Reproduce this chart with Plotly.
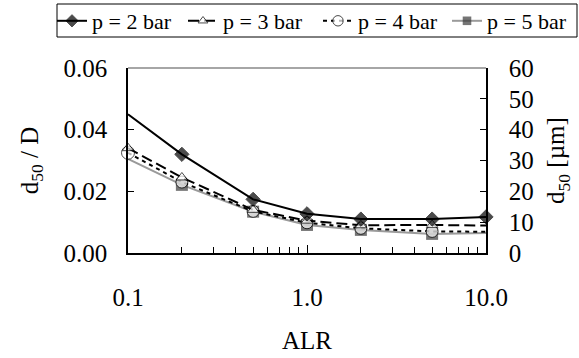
import plotly.graph_objects as go

alr = [0.1, 0.2, 0.5, 1.0, 2.0, 5.0, 10.0]
p2 = [0.045, 0.032, 0.0174, 0.0127, 0.0110, 0.0110, 0.0117]
p3 = [0.034, 0.0245, 0.0140, 0.0105, 0.0090, 0.0091, 0.0089]
p4 = [0.0325, 0.0230, 0.0135, 0.0098, 0.0080, 0.0070, 0.0069]
p5 = [0.0305, 0.0221, 0.0134, 0.0091, 0.0075, 0.0062, 0.0065]
names = ["p = 2 bar", "p = 3 bar", "p = 4 bar", "p = 5 bar"]
y_left_ticks = [0.00, 0.02, 0.04, 0.06]
y_right_ticks = [0, 10, 20, 30, 40, 50, 60]
x_ticks = [0.1, 1.0, 10.0]
x_ticklabels = ["0.1", "1.0", "10.0"]
x_minor = [0.2, 0.3, 0.4, 0.5, 0.6, 0.7, 0.8, 0.9, 2, 3, 4, 5, 6, 7, 8, 9]

FONT = "Liberation Serif"
W, H = 579, 358
L, R, T, B = 128, 93, 68, 105
PW, PH = W - L - R, H - T - B


def px_x(px):
    return (px - L) / PW


def px_y(py):
    return (H - B - py) / PH


fig = go.Figure()
fig.add_trace(go.Scatter(
    x=alr, y=p5, name=names[3], mode="lines+markers", legend="legend2",
    line=dict(color="#9a9a9a", width=2),
    marker=dict(symbol="square", size=[0, 12, 12, 12, 12, 12, 0], color="#3a3a3a",
                line=dict(color="#3a3a3a", width=0)),
    cliponaxis=False))
fig.add_trace(go.Scatter(
    x=alr, y=p4, name=names[2], mode="lines+markers", legend="legend2",
    line=dict(color="black", width=2, dash="4px,4px"),
    marker=dict(symbol="circle", size=[13, 12, 12, 12, 12, 12, 0], color="white",
                line=dict(color="black", width=1)),
    cliponaxis=False))
fig.add_trace(go.Scatter(
    x=alr, y=p3, name=names[1], mode="lines+markers", legend="legend",
    line=dict(color="black", width=2, dash="11px,5px"),
    marker=dict(symbol="triangle-up", size=[10, 10, 10, 10, 10, 10, 0], color="white",
                line=dict(color="black", width=1)),
    cliponaxis=False))
fig.add_trace(go.Scatter(
    x=alr, y=p2, name=names[0], mode="lines+markers", legend="legend",
    line=dict(color="black", width=2),
    marker=dict(symbol="diamond", size=[0, 11, 11, 11, 11, 11, 11], color="black",
                line=dict(color="black", width=1)),
    cliponaxis=False))

# secondary axis trace (invisible) to carry the right axis
fig.add_trace(go.Scatter(x=[alr[0]], y=[None], yaxis="y2", showlegend=False,
                         hoverinfo="skip"))

leg_common = dict(orientation="h", traceorder="reversed", xanchor="left",
                  yanchor="middle", bgcolor="rgba(0,0,0,0)", borderwidth=0,
                  font=dict(family=FONT, size=22, color="black"), itemwidth=30,
                  tracegroupgap=0, entrywidthmode="pixels")

fig.update_layout(
    width=W, height=H,
    margin=dict(l=L, r=R, t=T, b=B, autoexpand=False),
    paper_bgcolor="white", plot_bgcolor="white",
    font=dict(family=FONT, size=25, color="black"),
    showlegend=True,
    legend=dict(x=px_x(52), y=px_y(21), entrywidth=86, **leg_common),
    legend2=dict(x=px_x(318), y=px_y(21), entrywidth=84, **leg_common),
    xaxis=dict(type="log", range=[-1, 1], tickvals=x_ticks, ticktext=x_ticklabels,
               ticks="inside", ticklen=8, tickcolor="black", tickwidth=1,
               showline=True, linecolor="black", linewidth=1.5, mirror=False,
               showgrid=False, zeroline=False, ticklabelstandoff=21,
               tickfont=dict(family=FONT, size=25),
               minor=dict(tickvals=x_minor, ticks="inside", ticklen=6,
                          tickcolor="black", showgrid=False),
               title=dict(text="ALR", standoff=22, font=dict(family=FONT, size=25))),
    yaxis=dict(range=[0, 0.06], tickvals=y_left_ticks, tickformat=".2f",
               ticks="inside", ticklen=6, tickcolor="black",
               showline=True, linecolor="black", linewidth=1.5,
               showgrid=False, zeroline=False, ticklabelstandoff=14,
               tickfont=dict(family=FONT, size=25),
               title=dict(text="d<sub>50</sub> / D", standoff=18,
                          font=dict(family=FONT, size=25))),
    yaxis2=dict(range=[0, 60], tickvals=y_right_ticks, overlaying="y", side="right",
                ticks="inside", ticklen=6, tickcolor="black",
                showline=True, linecolor="black", linewidth=1.5,
                showgrid=False, zeroline=False, ticklabelstandoff=16,
                tickfont=dict(family=FONT, size=25),
                title=dict(text="d<sub>50</sub> [µm]", standoff=14,
                           font=dict(family=FONT, size=25))),
    shapes=[
        dict(type="line", xref="paper", yref="paper", x0=0, x1=1, y0=1, y1=1,
             line=dict(color="#888888", width=1.5)),
        dict(type="rect", xref="paper", yref="paper",
             x0=px_x(57), x1=px_x(577), y0=px_y(37), y1=px_y(4),
             line=dict(color="black", width=1), fillcolor="rgba(0,0,0,0)"),
    ],
)

fig.write_html("out.html")
